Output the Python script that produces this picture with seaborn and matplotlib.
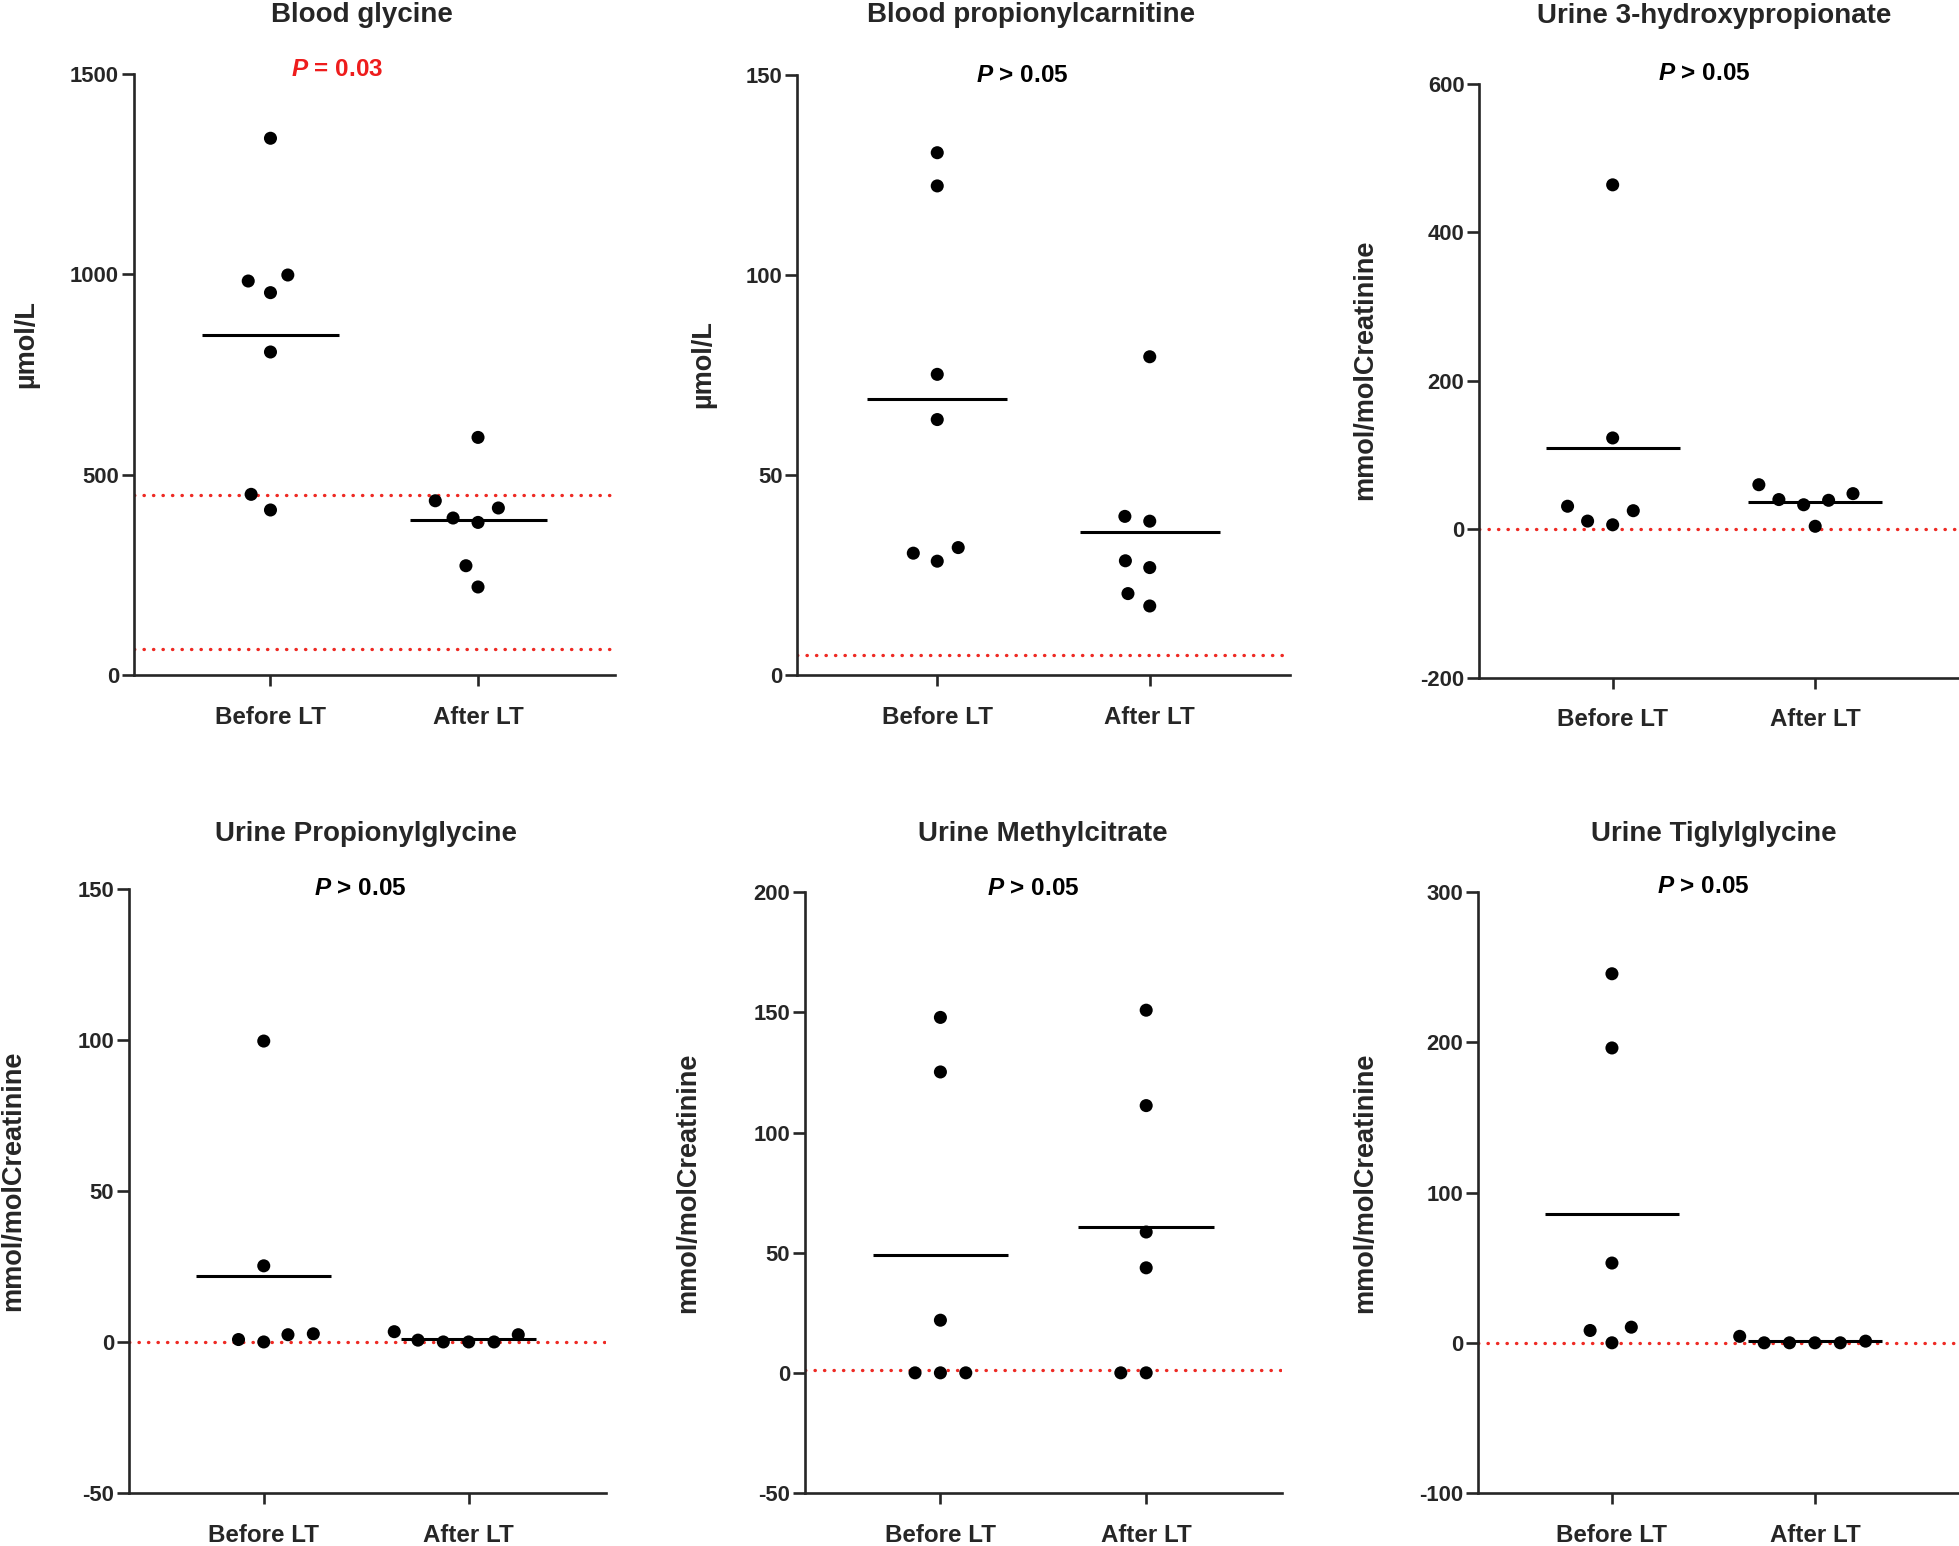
import numpy as np
import pandas as pd
import matplotlib
matplotlib.use("Agg")
import matplotlib.pyplot as plt
import matplotlib.transforms as mtransforms
import seaborn as sns

# -------------------------------
# DATA
# -------------------------------
groups = ["Before LT", "After LT"]

titles = ["Blood glycine", "Blood propionylcarnitine", "Urine 3-hydroxypropionate",
          "Urine Propionylglycine", "Urine Methylcitrate", "Urine Tiglylglycine"]
ylabels = ["µmol/L", "µmol/L", "mmol/molCreatinine",
           "mmol/molCreatinine", "mmol/molCreatinine", "mmol/molCreatinine"]
p_labels = ["$P$ = 0.03", "$P$ > 0.05", "$P$ > 0.05", "$P$ > 0.05", "$P$ > 0.05", "$P$ > 0.05"]

gly_before = [1339, 998, 983, 954, 806, 451, 412]
gly_after = [593, 435, 417, 392, 381, 273, 220]

c3_before = [130.6, 122.3, 75.2, 63.9, 31.9, 30.5, 28.5]
c3_after = [79.6, 39.7, 38.5, 28.6, 26.9, 20.4, 17.3]

hp_before = [464, 123, 31, 25, 11, 6]
hp_after = [60, 48, 40, 39, 33, 4]

pg_before = [99.6, 25.2, 2.7, 2.4, 0.8, 0]
pg_after = [3.4, 2.4, 0.6, 0, 0, 0]

mc_before = [147.9, 125.2, 21.9, 0, 0, 0]
mc_after = [150.9, 111.2, 58.6, 43.7, 0, 0]

tg_before = [245.7, 196.3, 53.1, 10.4, 8.2, 0]
tg_after = [4.3, 1.1, 0, 0, 0, 0]

# reference limits (red dotted lines)
ref_lines = [[65, 450], [5], [0], [0], [1], [0]]

y_ticks = [[0, 500, 1000, 1500], [0, 50, 100, 150], [-200, 0, 200, 400, 600],
           [-50, 0, 50, 100, 150], [-50, 0, 50, 100, 150, 200], [-100, 0, 100, 200, 300]]

series = [(gly_before, gly_after), (c3_before, c3_after), (hp_before, hp_after),
          (pg_before, pg_after), (mc_before, mc_after), (tg_before, tg_after)]

# -------------------------------
# LAYOUT
# -------------------------------
W, H = 1959, 1546
# axes boxes in pixels: left, top, right, bottom
boxes = [(133.5, 73.7, 615, 675.2), (797, 75.1, 1290, 675.2), (1479, 83.9, 1959, 677.7),
         (128.5, 888.8, 606, 1493), (804.6, 892.2, 1282, 1493), (1478, 892.2, 1959, 1493)]
xmax = [1.66, 1.66, 1.71, 1.67, 1.66, 1.71]
label_x = [-0.196, -0.164, -0.21, -0.2135, -0.217, -0.208]
label_y = [0.551, 0.519, 0.518, 0.517, 0.516, 0.516]
title_x = [0.44, 0.44, 0.5, 0.5, 0.5, 0.5]
title_y = [22, 22, 23, 840.6, 840.6, 840.6]      # baseline, px from top
p_x = [0.32, 0.40, 0.45, 0.47, 0.45, 0.45]
p_y = [69, 75, 74, 888.8, 888.8, 886.4]          # centre, px from top
p_colors = ["#ee1c1c"] + ["black"] * 5

RED = "#ee2a24"

sns.set_style("ticks")
plt.rcParams["font.family"] = ["Liberation Sans", "DejaVu Sans"]
plt.rcParams["font.weight"] = "bold"
plt.rcParams["mathtext.fontset"] = "custom"
plt.rcParams["mathtext.it"] = "Liberation Sans:italic:bold"
plt.rcParams["mathtext.rm"] = "Liberation Sans:bold"
plt.rcParams["axes.linewidth"] = 1.9
plt.rcParams["axes.unicode_minus"] = False

fig = plt.figure(figsize=(W / 100, H / 100), dpi=100)

for k in range(6):
    l, t, r, b = boxes[k]
    ax = fig.add_axes([l / W, 1 - b / H, (r - l) / W, (b - t) / H])
    before, after = series[k]
    df = pd.DataFrame({
        "group": [groups[0]] * len(before) + [groups[1]] * len(after),
        "value": before + after,
    })

    for v in ref_lines[k]:
        ax.axhline(v, color=RED, lw=2.4, linestyle=(0, (0.1, 2.75)),
                   dash_capstyle="round", zorder=1)

    # linewidth with no edge colour widens the swarm spacing like GraphPad
    sns.swarmplot(data=df, x="group", y="value", order=groups, color="black",
                  size=9.4, linewidth=8, edgecolor="none", ax=ax, zorder=3)

    means = df.groupby("group")["value"].mean().reindex(groups)
    for i, m in enumerate(means):
        ax.hlines(m, i - 0.33, i + 0.33, color="black", lw=2.2, zorder=4)

    ax.set_xlim(-0.66, xmax[k])
    ax.set_ylim(y_ticks[k][0], y_ticks[k][-1])
    ax.set_yticks(y_ticks[k])
    sns.despine(ax=ax)

    ax.tick_params(axis="y", length=8.5, width=1.9, labelsize=15.8, pad=2)
    ax.tick_params(axis="x", length=8, width=1.9, labelsize=17.4, pad=14)
    for lab in ax.get_xticklabels() + ax.get_yticklabels():
        lab.set_fontweight("bold")

    ax.set_xlabel("")
    ax.set_ylabel(ylabels[k], fontsize=19.5, fontweight="bold")
    ax.yaxis.set_label_coords(label_x[k], label_y[k])

    trans = mtransforms.blended_transform_factory(ax.transData, fig.transFigure)
    ax.text(title_x[k], 1 - title_y[k] / H, titles[k], transform=trans,
            ha="center", va="baseline", fontsize=20, fontweight="bold", clip_on=False)
    ax.text(p_x[k], 1 - p_y[k] / H, p_labels[k], transform=trans,
            ha="center", va="center", fontsize=17.5, fontweight="bold",
            color=p_colors[k], clip_on=False)

fig.savefig("out.png", dpi=100)
plt.close(fig)
